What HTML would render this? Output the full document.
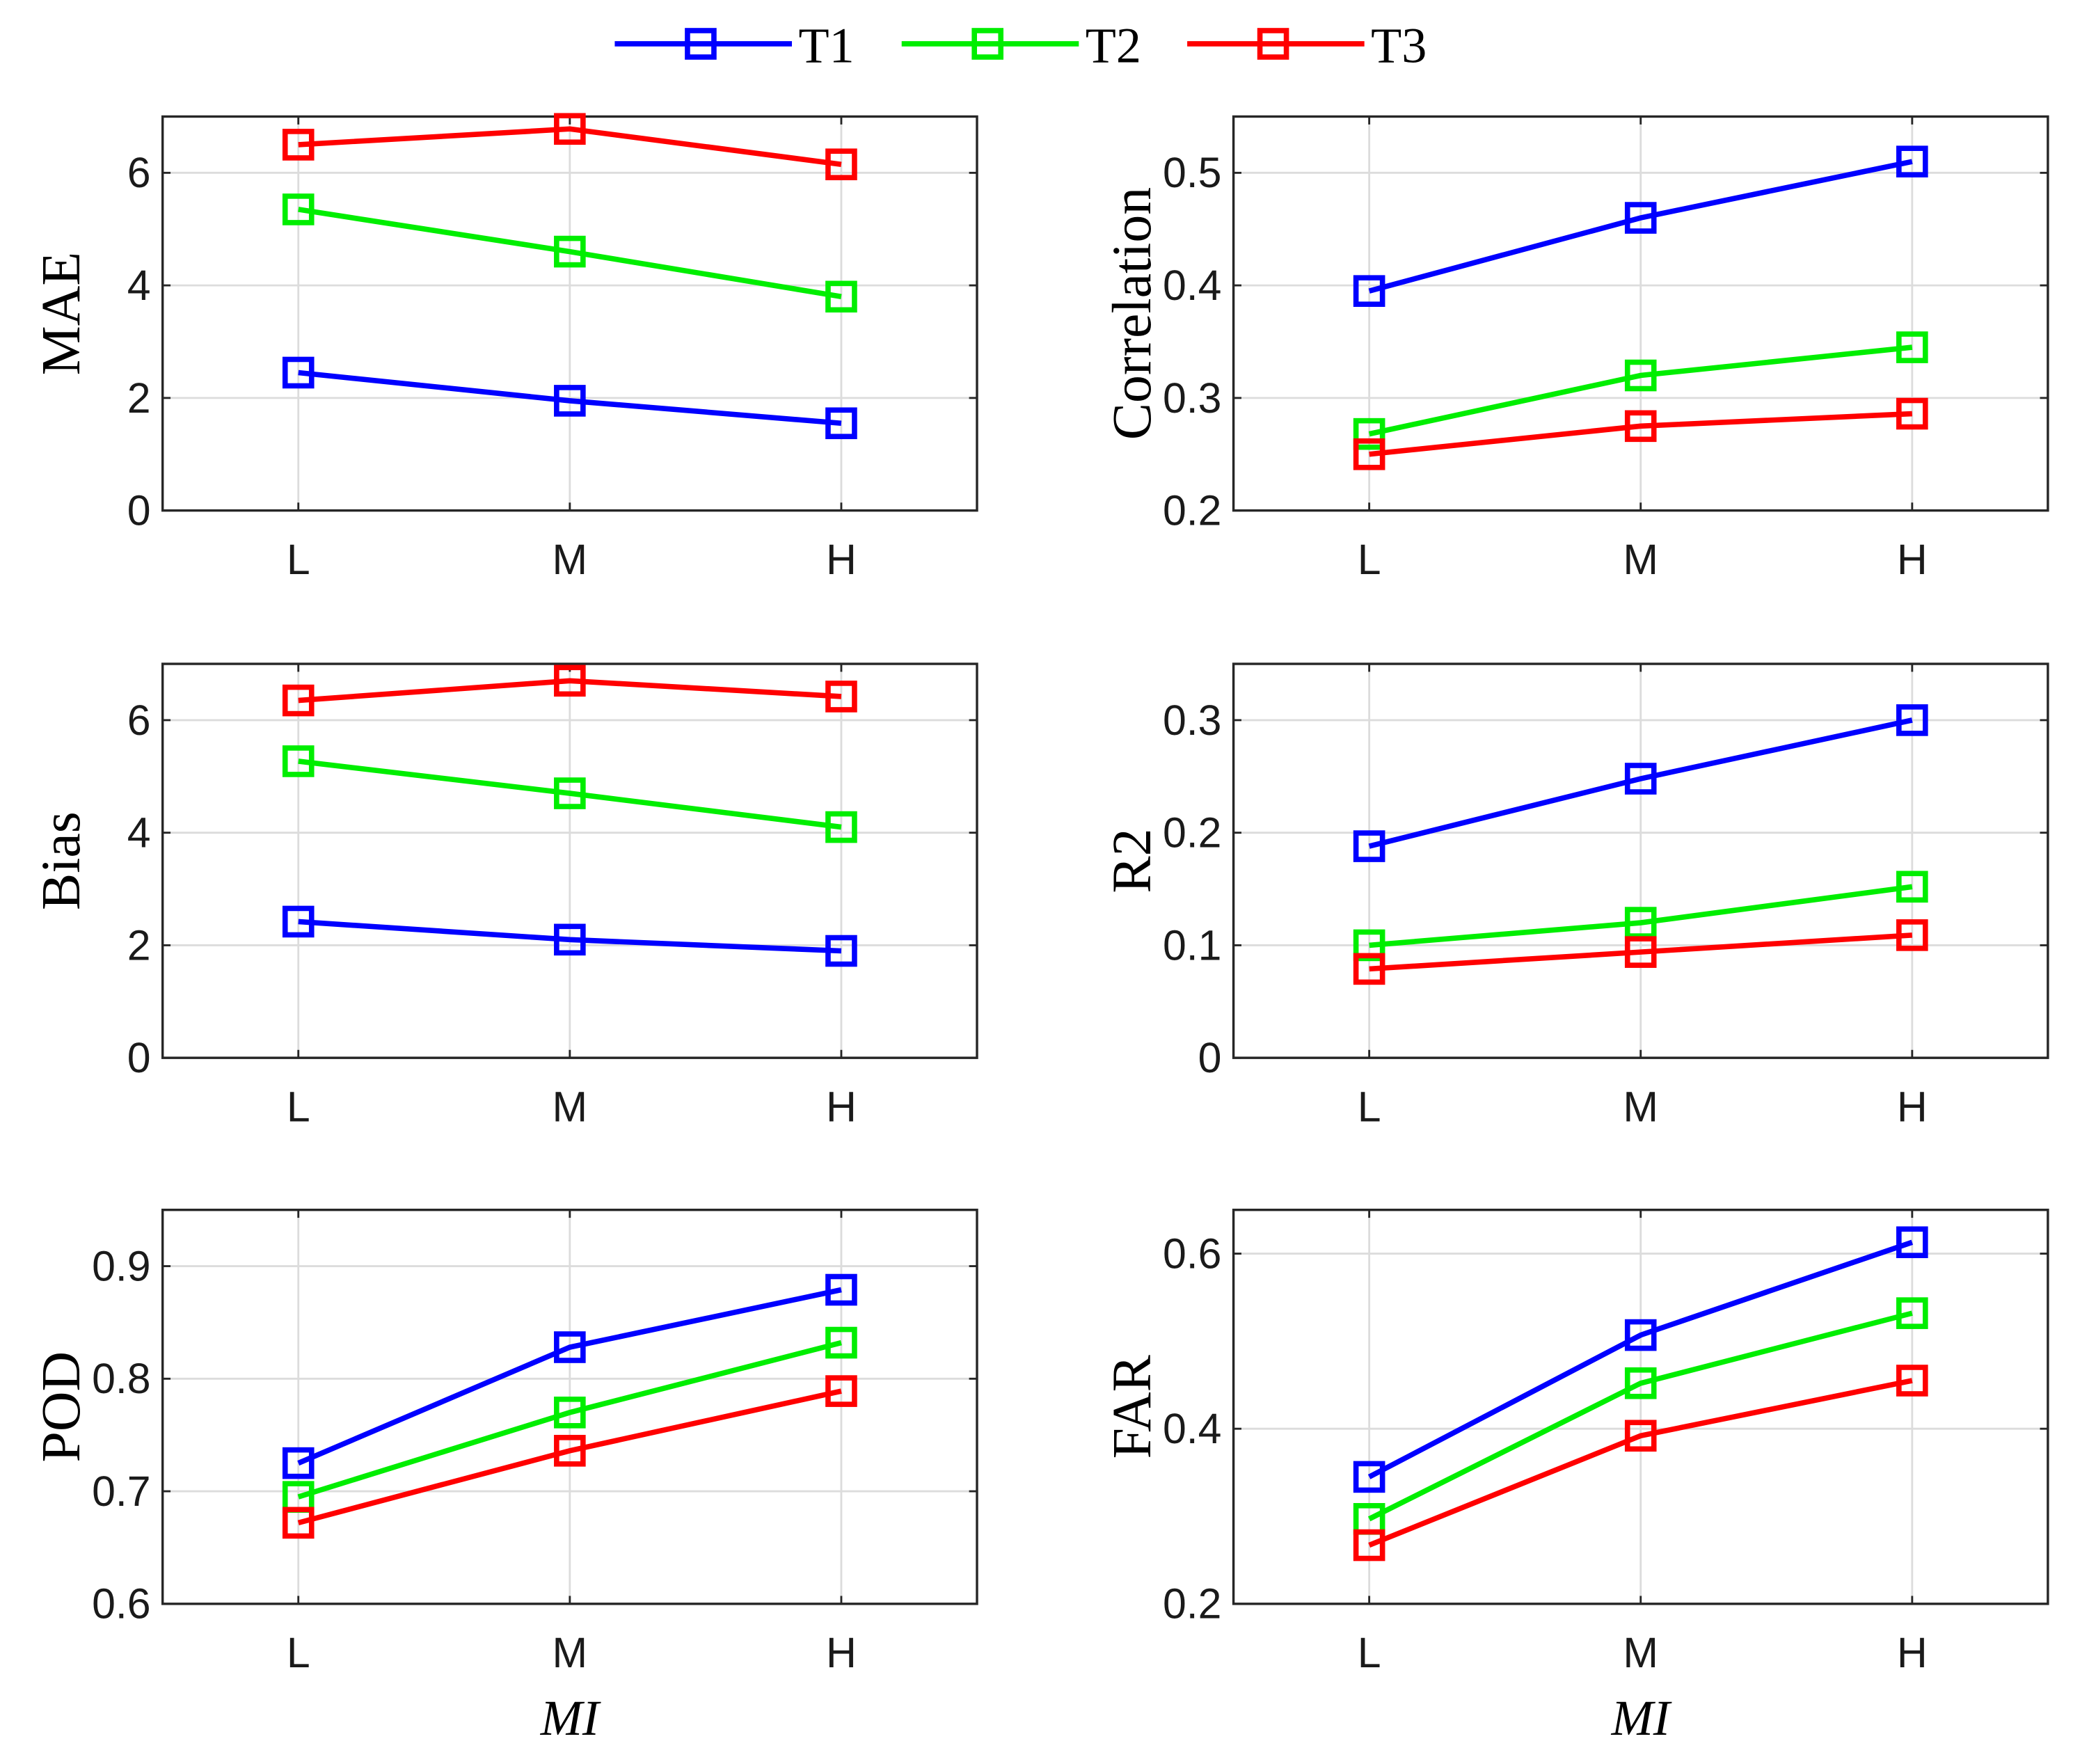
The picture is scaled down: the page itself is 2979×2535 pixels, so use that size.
<!DOCTYPE html>
<html><head><meta charset="utf-8"><style>
html,body{margin:0;padding:0;background:#fff;}
svg{display:block;}
</style></head><body>
<svg id="fig" width="2979" height="2535" viewBox="0 0 1568 1334" xmlns="http://www.w3.org/2000/svg"></svg>
<script>
const categories = ["L","M","H"];
const seriesNames = ["T1","T2","T3"];
const maeT1=[2.45,1.95,1.55], maeT2=[5.35,4.6,3.8], maeT3=[6.5,6.78,6.15];
const corrT1=[0.395,0.46,0.51], corrT2=[0.268,0.32,0.345], corrT3=[0.25,0.275,0.286];
const biasT1=[2.42,2.1,1.9], biasT2=[5.27,4.7,4.1], biasT3=[6.35,6.7,6.42];
const r2T1=[0.188,0.248,0.3], r2T2=[0.1,0.12,0.152], r2T3=[0.079,0.094,0.109];
const podT1=[0.725,0.828,0.879], podT2=[0.695,0.77,0.832], podT3=[0.672,0.736,0.789];
const farT1=[0.345,0.507,0.613], farT2=[0.297,0.452,0.532], farT3=[0.267,0.392,0.455];
const maeTicks=["0","2","4","6"], corrTicks=["0.2","0.3","0.4","0.5"], biasTicks=["0","2","4","6"];
const r2Ticks=["0","0.1","0.2","0.3"], podTicks=["0.6","0.7","0.8","0.9"], farTicks=["0.2","0.4","0.6"];
const colors=["#0000ff","#00ee00","#ff0000"];
const NS="http://www.w3.org/2000/svg";
const svg=document.getElementById("fig");
function mk(tag,attrs,parent){const e=document.createElementNS(NS,tag);for(const k in attrs)e.setAttribute(k,attrs[k]);(parent||svg).appendChild(e);return e;}
const panels=[
 {name:"mae",label:"MAE",x0:123,y0:88,ymin:0,ymax:7,ticks:maeTicks,data:[maeT1,maeT2,maeT3]},
 {name:"correlation",label:"Correlation",x0:933,y0:88,ymin:0.2,ymax:0.55,ticks:corrTicks,data:[corrT1,corrT2,corrT3]},
 {name:"bias",label:"Bias",x0:123,y0:502,ymin:0,ymax:7,ticks:biasTicks,data:[biasT1,biasT2,biasT3]},
 {name:"r2",label:"R2",x0:933,y0:502,ymin:0,ymax:0.35,ticks:r2Ticks,data:[r2T1,r2T2,r2T3]},
 {name:"pod",label:"POD",x0:123,y0:915,ymin:0.6,ymax:0.95,ticks:podTicks,data:[podT1,podT2,podT3],mi:true},
 {name:"far",label:"FAR",x0:933,y0:915,ymin:0.2,ymax:0.65,ticks:farTicks,data:[farT1,farT2,farT3],mi:true}
];
const W=616,H=298;
panels.forEach(p=>{
 const g=mk("g",{});
 
 
 const xs=i=>p.x0+W*(i+0.5)/categories.length;
 const ys=v=>p.y0+H-(v-p.ymin)/(p.ymax-p.ymin)*H;
 categories.forEach((c,i)=>{
  mk("line",{x1:xs(i),x2:xs(i),y1:p.y0,y2:p.y0+H,stroke:"#dcdcdc","stroke-width":1.5},g);
  mk("line",{x1:xs(i),x2:xs(i),y1:p.y0+H,y2:p.y0+H-6,stroke:"#262626","stroke-width":1.5},g);
  mk("line",{x1:xs(i),x2:xs(i),y1:p.y0,y2:p.y0+6,stroke:"#262626","stroke-width":1.5},g);
  const t=mk("text",{x:xs(i),y:p.y0+H+48,"text-anchor":"middle","font-family":"Liberation Sans, sans-serif","font-size":32,fill:"#1a1a1a"},g);
  t.textContent=c;
  
  
 });
 p.ticks.forEach(tk=>{
  const y=ys(parseFloat(tk));
  mk("line",{x1:p.x0,x2:p.x0+W,y1:y,y2:y,stroke:"#dcdcdc","stroke-width":1.5},g);
  mk("line",{x1:p.x0,x2:p.x0+6,y1:y,y2:y,stroke:"#262626","stroke-width":1.5},g);
  mk("line",{x1:p.x0+W,x2:p.x0+W-6,y1:y,y2:y,stroke:"#262626","stroke-width":1.5},g);
  const t=mk("text",{x:p.x0-9,y:y+11,"text-anchor":"end","font-family":"Liberation Sans, sans-serif","font-size":32,fill:"#1a1a1a"},g);
  t.textContent=tk;
  
  
 });
 mk("rect",{x:p.x0,y:p.y0,width:W,height:H,fill:"none",stroke:"#262626","stroke-width":1.8},g);
 const yl=mk("text",{x:0,y:0,"text-anchor":"middle","font-family":"Liberation Serif, serif","font-size":42,fill:"#000",transform:`translate(${p.x0-63},${p.y0+H/2}) rotate(-90)`},g);
 yl.textContent=p.label;
 
 
 if(p.mi){
  const xl=mk("text",{x:p.x0+W/2,y:1312,"text-anchor":"middle","font-family":"Liberation Serif, serif","font-style":"italic","font-size":38,fill:"#000"},g);
  xl.textContent="MI";
  
  
 }
 p.data.forEach((arr,s)=>{
  const pts=arr.map((v,i)=>xs(i)+","+ys(v)).join(" ");
  const l=mk("polyline",{points:pts,fill:"none",stroke:colors[s],"stroke-width":4},g);
  
  
  arr.forEach((v,i)=>{
   const m=mk("rect",{x:xs(i)-10,y:ys(v)-10,width:20,height:20,fill:"none",stroke:colors[s],"stroke-width":4},g);
   
   
  });
 });
});
const legX=[465,682,898];
const lg=mk("g",{});


seriesNames.forEach((n,s)=>{
 const x=legX[s];
 const e=mk("g",{},lg);
 
 
 mk("line",{x1:x,x2:x+134,y1:33,y2:33,stroke:colors[s],"stroke-width":4},e);
 mk("rect",{x:x+55,y:23,width:20,height:20,fill:"none",stroke:colors[s],"stroke-width":4},e);
 const t=mk("text",{x:x+139,y:47,"font-family":"Liberation Serif, serif","font-size":38,fill:"#000"},e);
 t.textContent=n;
});
</script>
</body></html>
